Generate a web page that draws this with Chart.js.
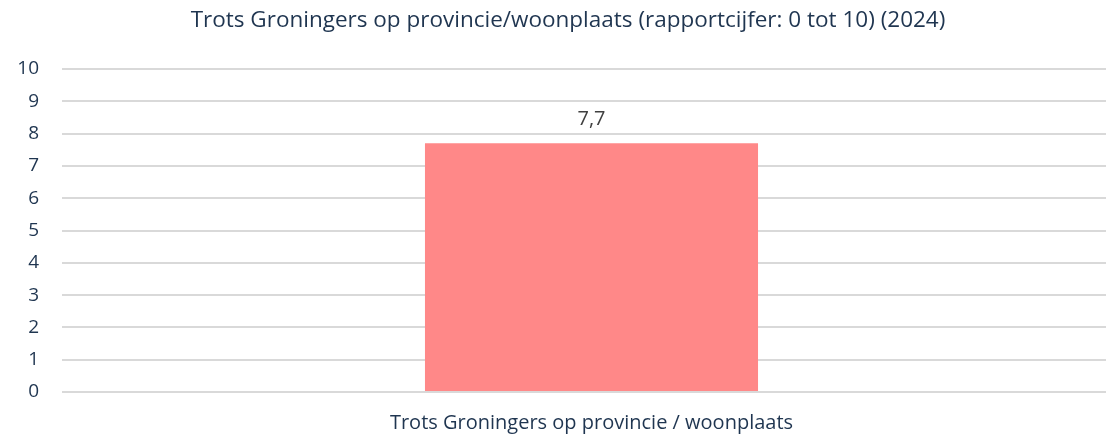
<!DOCTYPE html>
<html>
<head>
<meta charset="utf-8">
<script src="https://cdn.jsdelivr.net/npm/chart.js@4"></script>
<style>
  html, body { margin: 0; padding: 0; background: #fff; overflow: hidden; }
  #wrap { width: 1121px; height: 436px; }
</style>
</head>
<body>
<div id="wrap"><canvas id="trots"></canvas></div>
<script>
// ===== TROTS GRONINGERS =====
const categories = ['Trots Groningers op provincie / woonplaats'];
const scores = [7.7];
const yTicks = [0, 1, 2, 3, 4, 5, 6, 7, 8, 9, 10];

const navy = '#1f3550';
const font = '"Open Sans", sans-serif';

// value above each bar, Dutch decimal comma
const valueLabels = {
    id: 'valueLabels',
    afterDatasetsDraw(chart) {
        const ctx = chart.ctx;
        const meta = chart.getDatasetMeta(0);
        ctx.save();
        ctx.fillStyle = '#404040';
        ctx.font = '20px ' + font;
        ctx.textAlign = 'center';
        ctx.textBaseline = 'middle';
        meta.data.forEach((bar, i) => {
            ctx.fillText(scores[i].toLocaleString('nl-NL'), bar.x, bar.y - 24);
        });
        ctx.restore();
    }
};

new Chart(document.getElementById('trots'), {
    type: 'bar',
    data: {
        labels: categories,
        datasets: [{
            data: scores,
            backgroundColor: '#ff8888',
            categoryPercentage: 1,
            barPercentage: 0.3145
        }]
    },
    options: {
        responsive: true,
        maintainAspectRatio: false,
        animation: false,
        layout: { padding: { left: 15, right: 0, top: 0, bottom: 0 } },
        plugins: {
            legend: { display: false },
            tooltip: { enabled: false },
            title: {
                display: true,
                text: 'Trots Groningers op provincie/woonplaats (rapportcijfer: 0 tot 10) (2024)',
                color: navy,
                font: { family: font, size: 22.5, weight: 'normal' },
                padding: { top: 7, bottom: 35 }
            }
        },
        scales: {
            x: {
                afterFit: scale => { scale.height = 44; },
                grid: { display: false, drawTicks: false },
                border: { display: false },
                ticks: {
                    color: navy,
                    font: { family: font, size: 20 },
                    padding: 19
                }
            },
            y: {
                min: 0,
                max: 10,
                afterBuildTicks: scale => { scale.ticks = yTicks.map(v => ({ value: v })); },
                afterFit: scale => { scale.width = 47; },
                grid: { color: '#d9d9d9', lineWidth: 2, drawTicks: false },
                border: { display: false },
                ticks: {
                    color: navy,
                    font: { family: font, size: 19 },
                    padding: 23
                }
            }
        }
    },
    plugins: [valueLabels]
});
</script>
</body>
</html>
